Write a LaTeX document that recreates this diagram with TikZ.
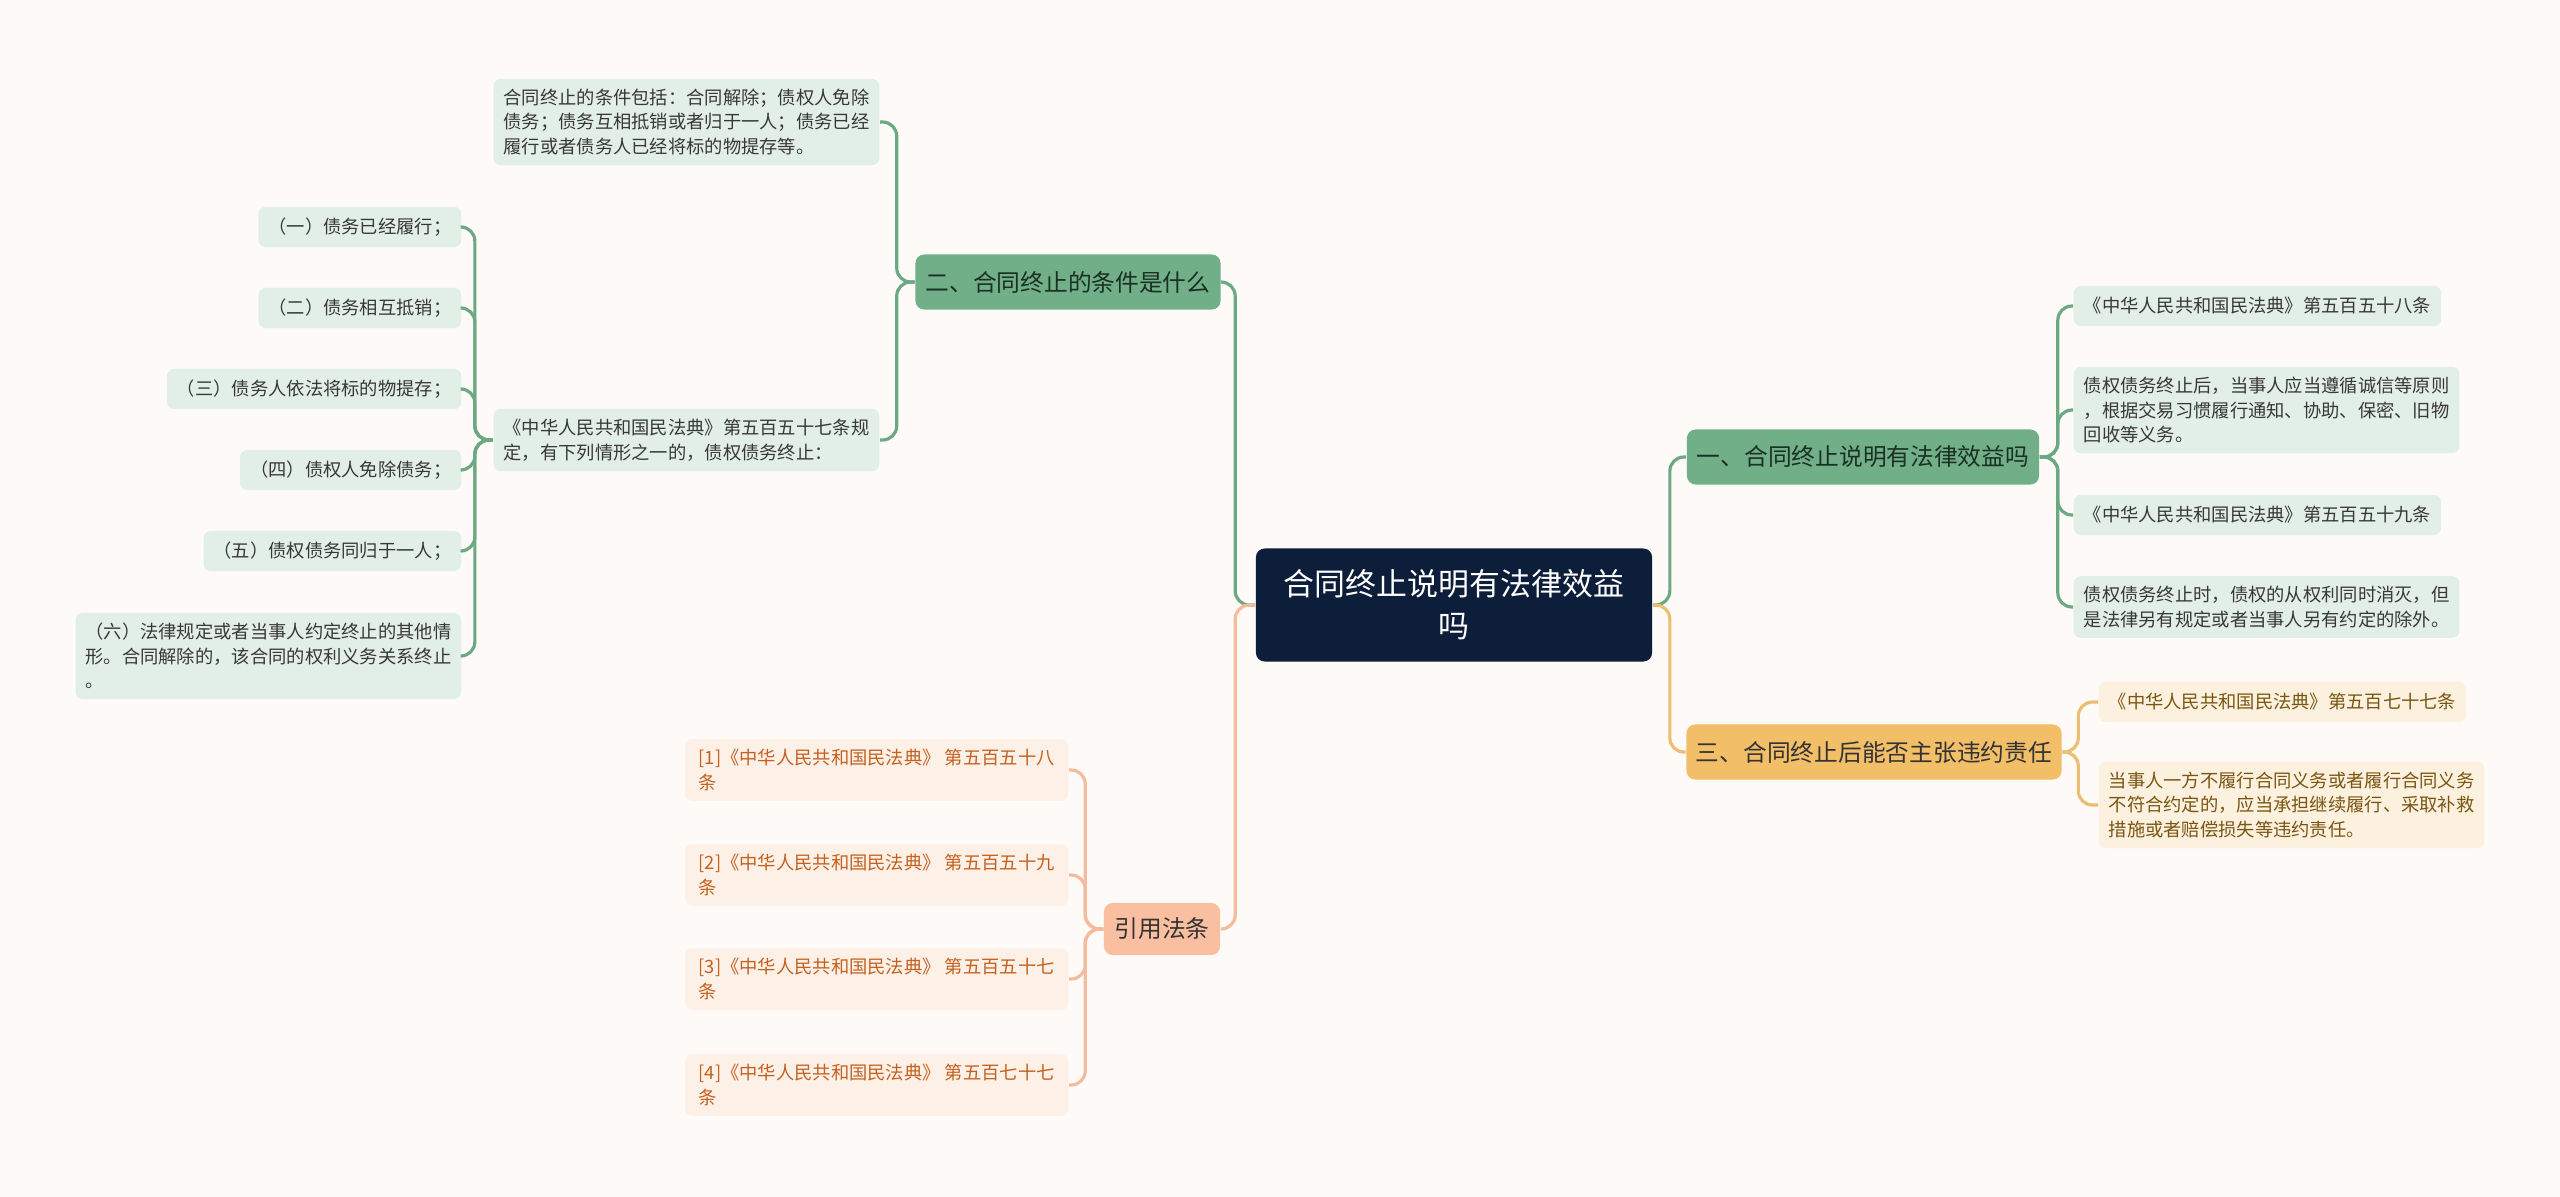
\documentclass[tikz,border=0pt]{standalone}
\usepackage{fontspec}
\setmainfont{Noto Sans CJK SC}

\definecolor{bgcol}{HTML}{FDFAF8}
\definecolor{rootcol}{HTML}{0D1E3A}
\definecolor{greenfill}{HTML}{70AF87}
\definecolor{greenleaf}{HTML}{E2EFE6}
\definecolor{greenline}{HTML}{6CA882}
\definecolor{greentext}{HTML}{1B3024}
\definecolor{goldfill}{HTML}{F3BE68}
\definecolor{goldleaf}{HTML}{FCF1DF}
\definecolor{goldline}{HTML}{EBBE70}
\definecolor{goldtext}{HTML}{7A5511}
\definecolor{reffill}{HTML}{F9BFA0}
\definecolor{refleaf}{HTML}{FDF0E7}
\definecolor{refline}{HTML}{F4BC9C}
\definecolor{reftext}{HTML}{C4611F}

\tikzset{
  rootbox/.style={fill=rootcol, text=white, rounded corners=2.5pt, align=center,
    font=\fontsize{8.8}{12}\selectfont, minimum height=1.13cm},
  branchbox/.style={rounded corners=2.5pt, minimum height=0.55cm, inner sep=0pt,
    font=\fontsize{6.75}{8}\selectfont},
  leafbox/.style={rounded corners=2pt, align=left, inner xsep=0.1cm, inner ysep=0.1cm,
    minimum height=0.4cm, font=\fontsize{5.2}{7}\selectfont},
  gleaf/.style={leafbox, fill=greenleaf, text=black!78},
  oleaf/.style={leafbox, fill=goldleaf, text=goldtext},
  rleaf/.style={leafbox, fill=refleaf, text=reftext},
  link/.style={rounded corners=4pt, line width=0.9pt},
}

\begin{document}
\begin{tikzpicture}[x=0.01cm, y=-0.01cm]
  \fill[bgcol] (0,0) rectangle (2560,1197);
  \useasboundingbox (0,0) rectangle (2560,1197);

  % root and main branches
  \node[rootbox, minimum width=3.96cm] (root) at (1454,605) {合同终止说明有法律效益\\吗};
  \node[branchbox, fill=greenfill, text=greentext, minimum width=3.05cm] (cond) at (1068,282) {二、合同终止的条件是什么};
  \node[branchbox, fill=greenfill, text=greentext, minimum width=3.52cm] (effect) at (1863,457) {一、合同终止说明有法律效益吗};
  \node[branchbox, fill=goldfill, text=black!80, minimum width=3.75cm] (breach) at (1874,752) {三、合同终止后能否主张违约责任};
  \node[branchbox, fill=reffill, text=black!80, minimum width=1.16cm, minimum height=0.52cm] (refs) at (1162,929) {引用法条};

  \draw[link, greenline] (root.west) -- ++(-20,0) |- (cond.east);
  \draw[link, refline] (root.west) -- ++(-20,0) |- (refs.east);
  \draw[link, greenline] (root.east) -- ++(17,0) |- (effect.west);
  \draw[link, goldline] (root.east) -- ++(17,0) |- (breach.west);

  % 1. conditions
  \node[gleaf, anchor=east] (condA) at (880,122) {合同终止的条件包括：合同解除；债权人免除\\债务；债务互相抵销或者归于一人；债务已经\\履行或者债务人已经将标的物提存等。};
  \node[gleaf, anchor=east] (condB) at (880,440) {《中华人民共和国民法典》第五百五十七条规\\定，有下列情形之一的，债权债务终止：};
  \foreach \n in {condA, condB}
    \draw[link, greenline] (cond.west) -- ++(-18,0) |- (\n.east);

  \foreach \i/\y/\t in {1/227/（一）债务已经履行；, 2/308/（二）债务相互抵销；,
      3/389/（三）债务人依法将标的物提存；, 4/470/（四）债权人免除债务；,
      5/551/（五）债权债务同归于一人；} {
    \node[gleaf, anchor=east] (case\i) at (462,\y) {\t};
  }
  \node[gleaf, anchor=east] (case6) at (462,656) {（六）法律规定或者当事人约定终止的其他情\\形。合同解除的，该合同的权利义务关系终止\\。};
  \foreach \i in {1, ..., 6}
    \draw[link, greenline] (condB.west) -- ++(-18,0) |- (case\i.east);

  % 2. effect
  \node[gleaf, anchor=west] (effA) at (2073,306) {《中华人民共和国民法典》第五百五十八条};
  \node[gleaf, anchor=west] (effB) at (2073,410) {债权债务终止后，当事人应当遵循诚信等原则\\，根据交易习惯履行通知、协助、保密、旧物\\回收等义务。};
  \node[gleaf, anchor=west] (effC) at (2073,515) {《中华人民共和国民法典》第五百五十九条};
  \node[gleaf, anchor=west] (effD) at (2073,607) {债权债务终止时，债权的从权利同时消灭，但\\是法律另有规定或者当事人另有约定的除外。};
  \foreach \n in {effA, effB, effC, effD}
    \draw[link, greenline] (effect.east) -- ++(18,0) |- (\n.west);

  % 3. breach
  \node[oleaf, anchor=west] (brA) at (2098,702) {《中华人民共和国民法典》第五百七十七条};
  \node[oleaf, anchor=west] (brB) at (2098,805) {当事人一方不履行合同义务或者履行合同义务\\不符合约定的，应当承担继续履行、采取补救\\措施或者赔偿损失等违约责任。};
  \foreach \n in {brA, brB}
    \draw[link, goldline] (breach.east) -- ++(16,0) |- (\n.west);

  % 4. references
  \foreach \i/\y/\num in {1/770/五百五十八, 2/875/五百五十九, 3/979/五百五十七, 4/1085/五百七十七} {
    \node[rleaf, anchor=east, minimum width=3.83cm] (ref\i) at (1069,\y) {[\i]《中华人民共和国民法典》 第\num\\条};
    \draw[link, refline] (refs.west) -- ++(-18,0) |- (ref\i.east);
  }
\end{tikzpicture}
\end{document}
